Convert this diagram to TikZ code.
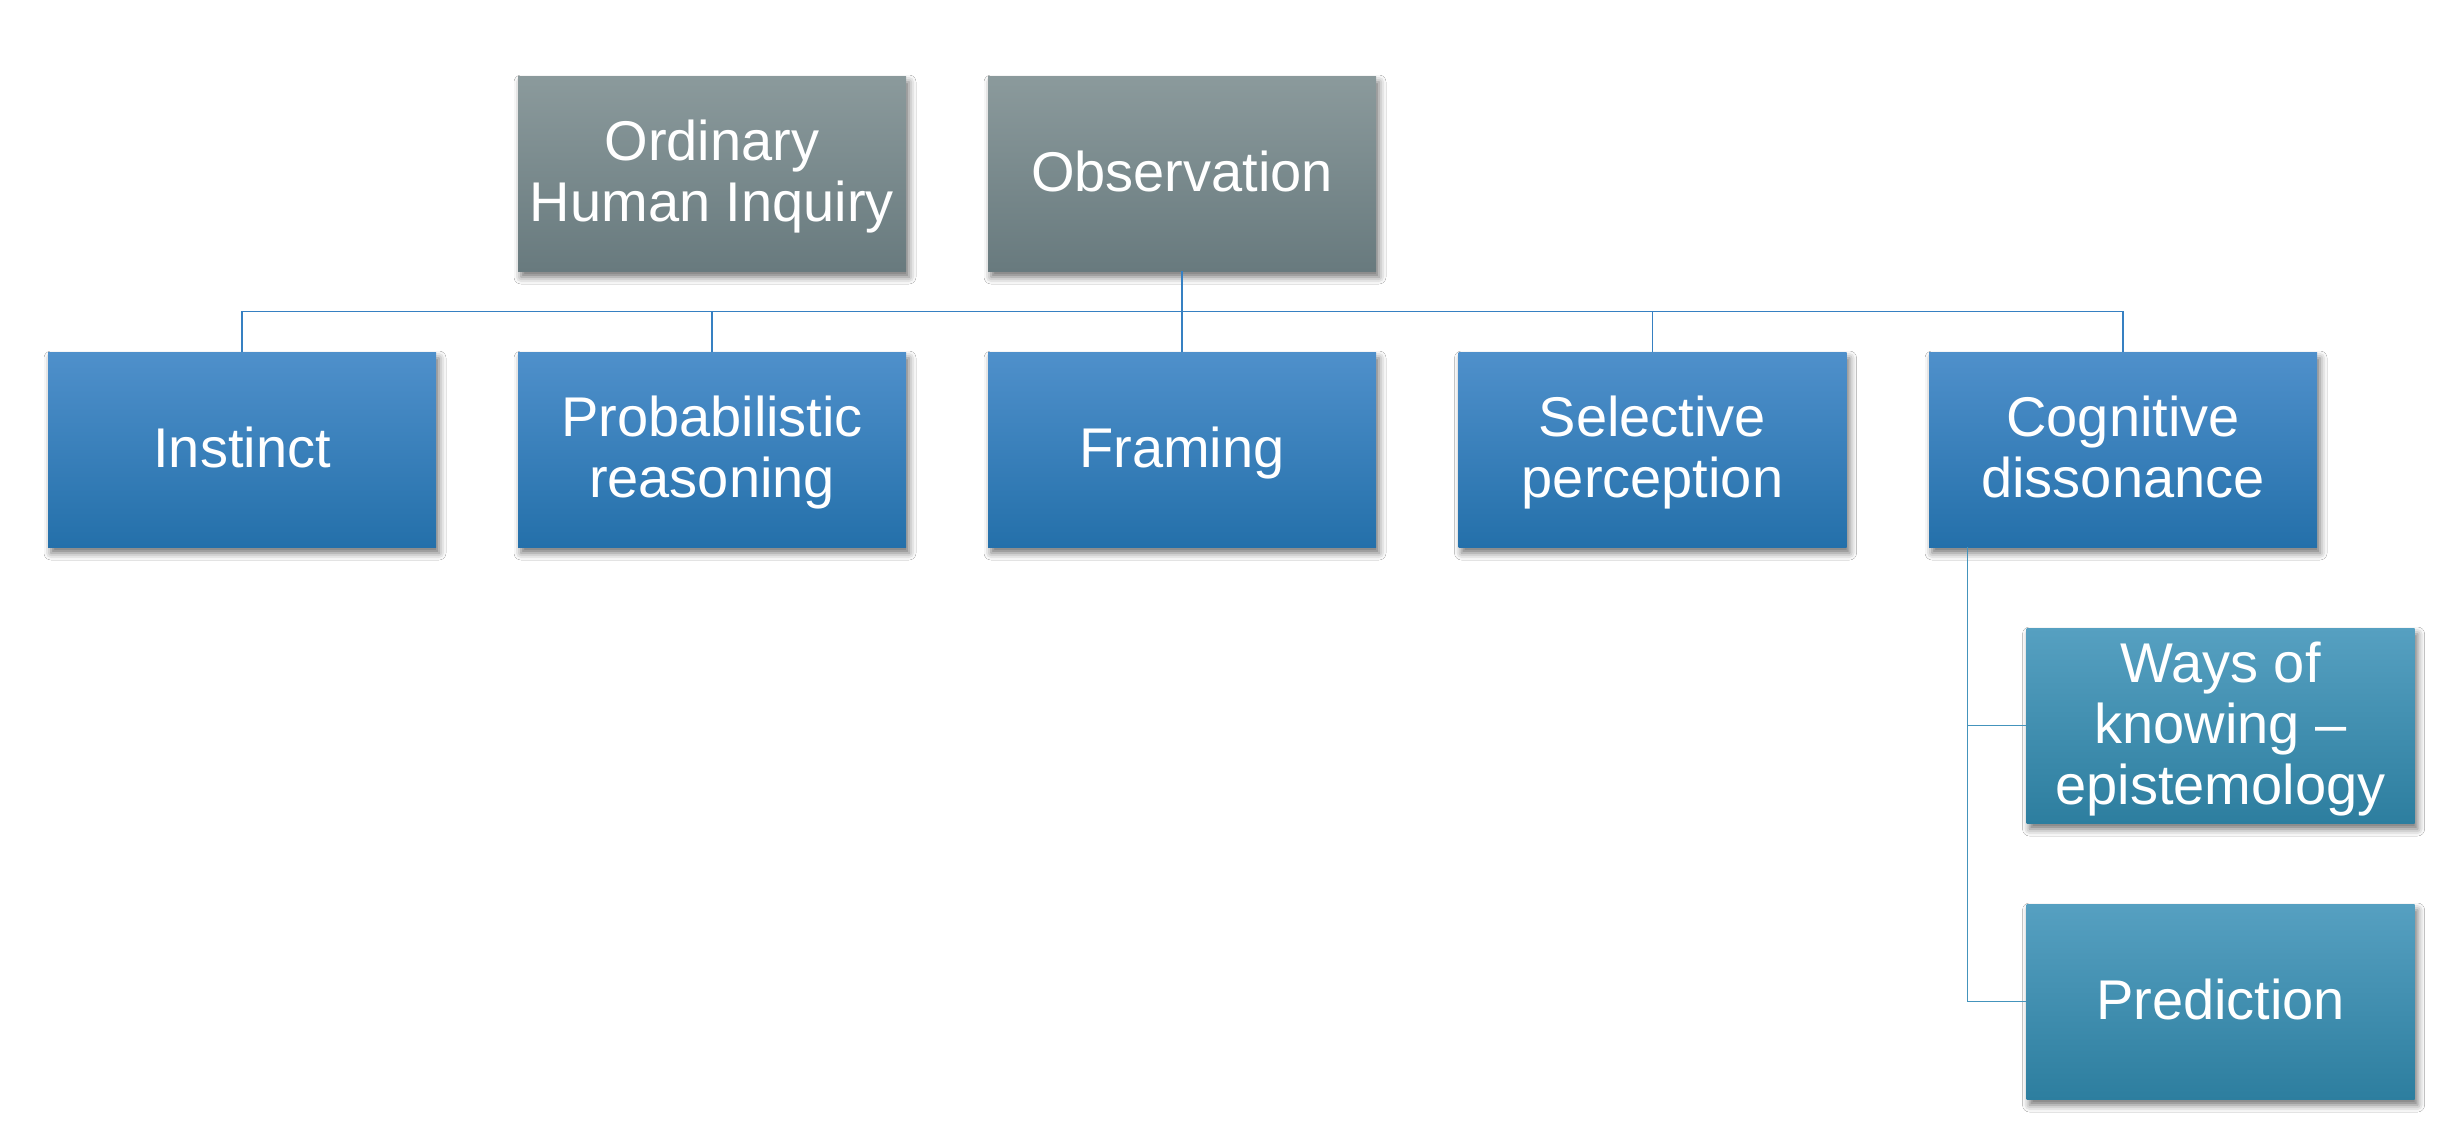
\documentclass[tikz,border=0pt]{standalone}
\usepackage{fontspec}
\setmainfont{Liberation Sans}
\usetikzlibrary{calc,shadows.blur}
\definecolor{grayTop}{HTML}{8B9A9C}
\definecolor{grayBot}{HTML}{687A7E}
\definecolor{blueTop}{HTML}{4F90CB}
\definecolor{blueBot}{HTML}{2470AA}
\definecolor{tealTop}{HTML}{56A0C1}
\definecolor{tealBot}{HTML}{2D7E9F}
\definecolor{busLine}{HTML}{3680C2}
\definecolor{subLine}{HTML}{4494BC}
\newcommand{\boxstrut}{\rule[-6.5pt]{0pt}{30.5pt}}
\newcommand{\ml}[1]{\vbox{\baselineskip=30.5pt\lineskiplimit=-100pt\lineskip=0pt
  \halign{\hfil\boxstrut##\hfil\cr#1\crcr}}}
\tikzset{
  box/.style={rectangle, minimum width=194pt, minimum height=97.5pt, inner sep=0pt,
    text=white, font=\fontsize{28}{30.5}\selectfont,
    blur shadow={shadow xshift=1.5pt, shadow yshift=-3pt, shadow blur radius=3.5pt, shadow opacity=55}},
  graybox/.style={box, top color=grayTop, bottom color=grayBot},
  bluebox/.style={box, top color=blueTop, bottom color=blueBot},
  tealbox/.style={box, top color=tealTop, bottom color=tealBot},
  busconn/.style={draw=busLine, line width=0.75pt},
  subconn/.style={draw=subLine, line width=0.75pt},
}
\begin{document}
\begin{tikzpicture}[x=0.5pt,y=-0.5pt]
\useasboundingbox[fill=white] (0,0) rectangle (2455,1147);
\node[graybox] (ohi) at (712,173.5) {\ml{Ordinary\cr Human Inquiry}};
\node[graybox] (obs) at (1182,173.5) {\ml{Observation}};
\node[bluebox] (ins) at (242,449.5) {\ml{Instinct}};
\node[bluebox] (pro) at (712,449.5) {\ml{Probabilistic\cr reasoning}};
\node[bluebox] (frm) at (1182,449.5) {\ml{Framing}};
\node[bluebox] (sel) at (1652.5,449.5) {\ml{Selective\cr perception}};
\node[bluebox] (cog) at (2123,449.5) {\ml{Cognitive\cr dissonance}};
\node[tealbox] (way) at (2220.5,725.5) {\ml{Ways of\cr knowing –\cr epistemology}};
\node[tealbox] (pre) at (2220.5,1001.5) {\ml{Prediction}};
\coordinate (bus) at ($(obs.south)!0.5!(frm.north)$);
\draw[busconn] (obs.south) -- (bus);
\foreach \c in {ins,pro,frm,sel,cog}{
  \draw[busconn] (bus) -| (\c.north);
}
\coordinate (cogdrop) at ([xshift=19.5pt]cog.south west);
\draw[subconn] (cogdrop) |- (way.west);
\draw[subconn] (cogdrop) |- (pre.west);
\end{tikzpicture}
\end{document}
